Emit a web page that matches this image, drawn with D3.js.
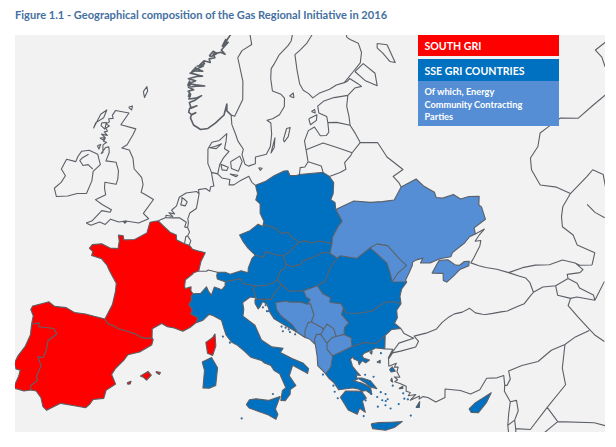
<!DOCTYPE html>
<html><head><meta charset="utf-8"><style>html,body{margin:0;background:#fff}svg{display:block}text{font-family:Lato,"Open Sans",sans-serif;font-weight:700}</style></head><body>
<script src="https://cdn.jsdelivr.net/npm/d3@7"></script>
<svg id="c" width="616" height="447"></svg>
<script>
const title="Figure 1.1 - Geographical composition of the Gas Regional Initiative in 2016";
const legendLabels=["SOUTH GRI","SSE GRI COUNTRIES",["Of which, Energy","Community Contracting","Parties"]];
// --- shared borders, lon/lat ---
const es_fr=[[-1.78,43.36],[-1.4,43.05],[-.75,42.95],[-.3,42.8],[.7,42.7],[1.45,42.6],[2,42.4],[2.55,42.35],[3.17,42.43]];
const es_n=[[-1.78,43.36],[-2.9,43.42],[-3.8,43.48],[-4.9,43.42],[-5.85,43.65],[-7.05,43.55],[-7.7,43.78],[-8.3,43.55],[-9.2,43.18],[-9.3,42.9],[-8.9,42.5],[-8.85,41.87]];
const es_pt=[[-8.85,41.87],[-8.15,42.1],[-8.1,41.82],[-7.2,41.9],[-6.6,41.95],[-6.2,41.6],[-6.9,41],[-6.85,40.35],[-7,39.7],[-7.5,39.65],[-7,39.1],[-7.2,38.2],[-7,38],[-7.5,37.5],[-7.4,37.18]];
const es_s=[[-7.4,37.18],[-6.9,37.2],[-6.35,36.8],[-6,36.2],[-5.6,36],[-5.3,36.2],[-4.5,36.7],[-3.5,36.72],[-2.2,36.72],[-1.9,37],[-1.65,37.4],[-.7,37.6],[-.6,38.2],[.2,38.75],[-.3,39.4],[0,39.9],[.7,40.6],[1,41],[2.1,41.3],[3.2,41.9],[3.3,42.3],[3.17,42.43]];
const pt_coast=[[-8.85,41.87],[-8.7,41.1],[-8.9,40.2],[-9.35,39.35],[-9.5,38.75],[-9.2,38.4],[-8.8,38.4],[-8.8,37.95],[-9,37.02],[-8,37],[-7.4,37.18]];
const fr_atl=[[-1.78,43.36],[-1.25,44.5],[-1.15,45.5],[-1.2,46.1],[-2.1,46.9],[-2.5,47.3],[-3.2,47.7],[-4.35,47.8],[-4.3,48.1],[-4.75,48.3],[-4.5,48.6],[-3.5,48.8],[-2.5,48.6],[-1.6,48.65],[-1.6,49.2],[-1.8,49.65],[-1.25,49.65],[-1.1,49.35],[.1,49.5],[1.4,50.1],[1.6,50.9],[2.55,51.08]];
const be_fr=[[2.55,51.08],[3.2,50.75],[4.1,50.3],[4.8,50.15],[4.85,49.8],[5.8,49.55]];
const fr_lu=[[5.8,49.55],[6.35,49.47]];
const de_fr=[[6.35,49.47],[6.75,49.18],[7.6,49.05],[8.2,48.97],[7.75,48.3],[7.55,47.6]];
const ch_fr=[[7.55,47.6],[7,47.45],[6.9,47.35],[6.15,46.9],[6.1,46.4],[6.2,46.25],[6.8,46.4],[6.8,46.1],[7.05,45.9]];
const fr_it=[[7.05,45.9],[6.85,45.7],[6.9,45.4],[6.65,45.1],[7.05,44.7],[6.9,44.4],[7.65,44.15],[7.5,43.78]];
const fr_med=[[7.5,43.78],[6.9,43.4],[6.2,43.1],[5.3,43.3],[4.6,43.35],[4,43.55],[3.1,43.1],[3.17,42.43]];
const it_ch=[[7.05,45.9],[7.85,45.95],[8.45,46.45],[8.7,46.1],[9,45.85],[9.3,46.45],[10.1,46.25],[10.45,46.55],[10.45,46.85]];
const at_it=[[10.45,46.85],[11.1,46.95],[12.15,47.05],[12.4,46.7],[13.7,46.5]];
const it_si=[[13.7,46.5],[13.45,46.2],[13.65,45.95],[13.6,45.8],[13.75,45.6]];
const it_coast=[[13.75,45.6],[13.1,45.7],[12.3,45.3],[12.4,44.8],[12.3,44.3],[13.5,43.6],[14.1,42.5],[15.1,41.95],[16.2,41.8],[15.9,41.5],[17,41],[18,40.6],[18.5,40.15],[18.35,39.8],[18,40],[17,40.5],[16.6,39.75],[17.15,39],[16.6,38.75],[16.55,38.4],[16.05,37.95],[15.65,38],[15.85,38.7],[16.2,38.9],[15.7,39.95],[15.2,40.2],[14.9,40.6],[14.3,40.8],[14,41],[13,41.25],[12.4,41.7],[11.7,42.15],[11.1,42.4],[10.55,42.95],[10.3,43.5],[10.1,44],[9.2,44.35],[8.8,44.42],[8.15,43.95],[7.5,43.78]];
const at_de=[[13.82,48.77],[13.45,48.55],[13,47.85],[12.95,47.5],[12.2,47.65],[11,47.4],[10.45,47.55],[9.6,47.55]];
const at_ch=[[9.6,47.55],[9.53,47.27],[9.6,47.05],[10.45,46.85]];
const at_si=[[13.7,46.5],[14.8,46.5],[15.6,46.65],[16.1,46.87]];
const at_hu=[[17.15,48],[17.05,47.7],[16.5,47.5],[16.1,46.87]];
const at_sk=[[17.15,48],[16.95,48.6]];
const at_cz=[[16.95,48.6],[16,48.75],[15,49],[14.7,48.6],[13.82,48.77]];
const de_cz=[[14.82,50.87],[14.3,51.05],[13.3,50.6],[12.1,50.3],[12.5,49.8],[13.05,49.3],[13.82,48.77]];
const de_pl=[[14.2,53.92],[14.4,53.3],[14.15,52.85],[14.65,52.55],[14.6,51.85],[15,51.25],[14.82,50.87]];
const pl_coast=[[14.2,53.92],[15.5,54.18],[16.6,54.55],[17.9,54.83],[18.4,54.82],[18.6,54.45],[19.4,54.4],[19.8,54.45]];
const pl_ru=[[19.8,54.45],[22.8,54.37]];
const pl_lt=[[22.8,54.37],[23.5,54]];
const pl_by=[[23.5,54],[23.9,53.5],[23.6,52.7],[23.2,52.3],[23.65,52.05],[23.6,51.5]];
const pl_ua=[[22.55,49.08],[22.7,49.55],[23.6,50.3],[24.1,50.6],[23.6,51.5]];
const pl_sk=[[22.55,49.08],[21.2,49.4],[20.2,49.35],[19.5,49.55],[18.85,49.5]];
const pl_cz=[[18.85,49.5],[18,50],[17.7,50.3],[16.9,50.25],[16.3,50.65],[15.1,51],[14.82,50.87]];
const cz_sk=[[16.95,48.6],[17.7,48.87],[18.6,49.4],[18.85,49.5]];
const hu_sk=[[22.15,48.4],[21.4,48.55],[20.4,48.3],[19,48.08],[18.8,47.85],[17.8,47.75],[17.15,48]];
const sk_ua=[[22.15,48.4],[22.55,49.08]];
const hu_ua=[[22.88,47.95],[22.15,48.4]];
const hu_ro=[[20.3,46.15],[21.2,46.4],[22,47.4],[22.88,47.95]];
const hu_rs=[[18.8,45.9],[20.3,46.15]];
const hu_hr=[[16.5,46.5],[17.3,45.95],[18.8,45.9]];
const hu_si=[[16.1,46.87],[16.5,46.5]];
const hr_si=[[13.6,45.48],[14.5,45.5],[15.3,45.45],[15.65,45.85],[16.5,46.5]];
const si_coast=[[13.6,45.48],[13.75,45.6]];
const hr_rs=[[18.8,45.9],[19,45.4],[19.4,45.2],[19.05,44.87]];
const ba_hr=[[19.05,44.87],[18.3,45.1],[17.2,45.15],[16.95,45.25],[15.75,45.2],[15.8,44.7],[16.2,44.2],[17.25,43.5],[17.65,43.05],[17.57,42.92],[17.7,42.92],[18.45,42.45]];
const hr_coast=[[18.45,42.45],[17.6,42.95],[16.5,43.5],[15.5,44],[15.1,44.5],[14.85,45.1],[14.4,45.32],[14.1,44.95],[13.9,44.8],[13.6,45.2],[13.6,45.48]];
const ba_me=[[18.45,42.45],[18.5,42.9],[18.9,43.5],[19.25,43.55]];
const ba_rs=[[19.25,43.55],[19.6,44.05],[19.35,44.9],[19.05,44.87]];
const me_coast=[[18.45,42.45],[18.9,42.3],[19.4,41.85]];
const al_me=[[19.4,41.85],[19.35,42.2],[19.65,42.6],[20.05,42.55]];
const me_rs=[[19.25,43.55],[20.3,43],[20.35,42.85]];
const kv_me=[[20.35,42.85],[20.05,42.55]];
const al_kv=[[20.05,42.55],[20.55,41.85]];
const kv_mk=[[20.55,41.85],[21.1,42.2],[21.55,42.25]];
const kv_rs=[[20.35,42.85],[20.8,43.25],[21.4,42.85],[21.55,42.25]];
const mk_rs=[[21.55,42.25],[22.35,42.32]];
const bg_mk=[[22.95,41.35],[23,42],[22.35,42.32]];
const gr_mk=[[22.95,41.35],[21.9,41.1],[20.95,40.88]];
const al_mk=[[20.95,40.88],[20.5,41.4],[20.55,41.85]];
const al_gr=[[20.95,40.88],[20.65,40.1],[20.1,39.65],[20,39.7]];
const al_coast=[[20,39.7],[19.4,40.3],[19.45,41],[19.4,41.85]];
const bg_gr=[[26.35,41.72],[25.3,41.25],[24.2,41.5],[23,41.35],[22.95,41.35]];
const gr_tr=[[26.05,40.75],[26.35,41.72]];
const gr_coast=[[26.05,40.75],[25.2,40.95],[24.8,40.85],[24,40.72],[23.75,40.55],[23.9,40.35],[24.4,40.15],[24,40],[23.7,40.2],[23.35,39.95],[23.3,40.25],[22.9,40.45],[22.95,40.6],[22.6,40.45],[22.7,39.9],[23,39.5],[23.3,39.15],[22.9,39.25],[22.95,38.9],[22.55,38.85],[23.3,38.6],[23.65,38.4],[24.05,38.1],[24.05,37.65],[23.6,38],[23.2,38],[22.9,38.2],[22.4,38.35],[21.8,38.35],[21.1,38.35],[20.75,38.9],[20.3,39.3],[20,39.7]];
const bg_rs=[[22.35,42.32],[22.5,42.8],[23,43.1],[22.4,43.8],[22.7,44.25]];
const bg_ro=[[22.7,44.25],[22.9,43.85],[24,43.7],[25.5,43.65],[27,44.1],[27.95,44],[28.58,43.74]];
const bg_coast=[[28.58,43.74],[28,43.35],[27.9,42.8],[27.5,42.45],[28,41.97]];
const bg_tr=[[28,41.97],[27.1,42.05],[26.35,41.72]];
const ro_rs=[[20.3,46.15],[20.8,45.5],[21.5,45.15],[21.4,44.8],[22.5,44.6],[22.7,44.25]];
const ro_ua=[[22.88,47.95],[23.2,48.1],[24.9,47.72],[25.1,47.73],[26.65,48.27]];
const ro_md=[[26.65,48.27],[27.3,47.7],[28.1,46.9],[28.2,46],[28.2,45.47]];
const ua_ro=[[29.7,45.2],[28.2,45.47]];
const ro_coast=[[28.58,43.74],[28.65,44.3],[29,44.8],[29.7,45.2]];
const md_ua=[[26.65,48.27],[27.5,48.45],[28.6,48.15],[29.2,47.4],[29.6,46.9],[30.1,46.4],[29,46],[28.2,45.47]];
const by_ua=[[31.8,52.1],[30.6,51.3],[29.2,51.4],[27.8,51.55],[25.9,51.9],[24,51.6],[23.6,51.5]];
const ru_ua=[[31.8,52.1],[33.8,52.35],[34.4,51.7],[35.4,51],[35.4,50.6],[36.1,50.4],[37.4,50.4],[38,49.9],[39,49.85],[40.1,49.6],[39.7,49],[39.9,48.8],[39.8,47.85],[38.3,47.55],[38.2,47.1]];
const ua_coast=[[38.2,47.1],[37.5,47.05],[36.8,46.75],[35.2,46.35],[34.9,46.1],[33.7,46.2],[32.6,46.1],[31.6,46.3],[32,46.6],[31.2,46.6],[30.8,46.5],[30.7,46.3],[30.2,45.85],[29.6,45.35],[29.7,45.2]];
const crimea=[[33.6,46.1],[34.5,45.95],[35.1,45.4],[35.5,45.3],[36.1,45.45],[36.6,45.35],[36.4,45.05],[35.4,45],[34.6,44.7],[33.7,44.4],[33.4,44.6],[33.6,45.1],[32.5,45.35],[33.2,45.85],[33.6,46.1]];
// islands of coloured countries
const peloponnese=[[23.2,37.95],[22.85,38.05],[21.7,38.2],[21.15,37.8],[21.7,36.8],[22.45,36.4],[22.75,36.8],[23.2,36.45],[23.1,37.3],[23.5,37.45]];
const crete=[[23.55,35.55],[24.2,35.55],[25.3,35.42],[26.3,35.3],[25.5,35],[24.7,34.92],[23.6,35.2]];
const euboea=[[23,39],[23.6,38.6],[24.05,38.2],[24.6,38],[24.15,38.65],[23.4,38.95]];
const lesbos=[[26.1,39.2],[26.4,39.35],[26.6,39],[26.2,39]];
const chios=[[26,38.4],[26.15,38.55],[26.15,38.25]];
const rhodes=[[27.75,36.1],[28.2,36.45],[28.05,36.05]];
const samos=[[26.6,37.7],[27,37.8],[26.95,37.65]];
const lemnos=[[25.05,39.9],[25.4,40],[25.35,39.8]];
const thasos=[[24.55,40.7],[24.8,40.75],[24.7,40.55]];
const greekDots=[[25.6,40.5],[27.15,35.6],[25.4,37.1],[25.2,37],[24.9,37.7],[24.5,37.4],[25.1,36.7],[26.9,36.9],[27.2,36.8],[24.4,36.7],[26.3,36.6],[20.7,38.25],[20.9,37.75],[20.65,38.7],[19.8,39.6],[23.4,37.3],[24,37.7],[24.5,38.9],[23.75,39.15],[26.1,38.0],[26.9,37.3],[23,36.2],[25.5,36.4],[24.9,37.1],[25.3,37.5]];
const cyprus=[[32.3,35.05],[33,35.35],[34.6,35.7],[33.9,35.1],[33,34.6],[32.4,34.75]];
const corsica=[[9.45,43],[9.55,42.1],[9.25,41.4],[8.75,41.55],[8.55,42.35],[9.2,42.7]];
const sardinia=[[8.25,40.9],[9.15,41.25],[9.75,40.5],[9.6,39.2],[9,39],[8.4,39],[8.5,40.3]];
const sicily=[[12.45,37.8],[12.75,38.15],[13.35,38.2],[14.5,38.05],[15.6,38.28],[15.1,37.4],[15.3,37],[15.1,36.65],[14.4,37],[13.5,37.3],[12.7,37.55]];
const mallorca=[[2.4,39.55],[3.1,39.95],[3.45,39.7],[3.05,39.3],[2.7,39.5]];
const menorca=[[3.85,40],[4.3,39.95],[4.2,39.8],[3.9,39.92]];
const ibiza=[[1.25,38.95],[1.6,39.1],[1.55,38.9],[1.35,38.85]];
const italyDots=[[10.25,42.8],[12,36.8],[14.95,38.5],[10.95,42.35]];
const dalmatia=[[14.4,44.9],[14.7,45.05],[15,44.6],[14.8,44.6],[15.5,44.1],[16.2,43.4],[16.6,43.3],[16.9,43.15],[17,42.95],[17.5,42.75],[16.3,43.05]];
// unfilled coast and borders
const uk=[[-5.7,50.07],[-5.1,49.98],[-4.2,50.35],[-3.5,50.25],[-3,50.7],[-2,50.6],[-1.2,50.75],[.3,50.75],[1.4,51.15],[.7,51.5],[1.7,52.6],[.4,52.95],[.1,53],[.2,53.6],[-.1,54.1],[-1.2,54.65],[-1.55,55.4],[-2.2,55.95],[-3.2,56],[-2.6,56.3],[-2.05,57.1],[-1.8,57.55],[-3.9,57.65],[-3.1,58.6],[-5,58.6],[-5.3,58.2],[-5.1,58],[-5.7,57.9],[-5.5,57.7],[-5.9,57.5],[-5.4,57.4],[-5.8,57.2],[-5.5,57],[-5.9,56.9],[-5.4,56.7],[-6.2,56.7],[-5.6,56.5],[-5.7,56.2],[-5.3,56.2],[-5.7,55.95],[-5.5,55.4],[-5.7,55.3],[-5.3,55.8],[-4.9,55.9],[-4.7,55.5],[-4.9,54.85],[-3.6,54.9],[-3.1,54.3],[-3,53.7],[-3.1,53.3],[-4.5,53.3],[-4.4,52.85],[-4.1,52.4],[-5.2,51.9],[-4.3,51.65],[-3.1,51.4],[-3.2,51.2],[-4.2,51.2],[-5.1,50.3],[-5.7,50.07]];
const ireland=[[-6.4,52.2],[-7.5,52.05],[-8.5,51.7],[-9.8,51.45],[-10.3,52],[-9.7,52.55],[-9.4,53.1],[-10.1,53.5],[-9.8,54.3],[-8.6,54.3],[-8.5,54.7],[-8.2,55.15],[-7.3,55.35],[-6.1,55.2],[-5.5,54.5],[-6.2,53.9],[-6.1,53.2],[-6.4,52.2]];
const ni=[[-7.25,55.05],[-7.9,54.7],[-8.15,54.45],[-7.6,54.15],[-7,54.3],[-6.3,54.05]];
const hebrides=[[-6.9,58.1],[-6.2,58.5],[-6.4,57.9],[-7.3,57.4],[-7.4,57],[-6.9,58.1]];
const skye=[[-6.5,57.5],[-5.9,57.6],[-5.9,57.1],[-6.5,57.3],[-6.5,57.5]];
const mull=[[-6.3,56.4],[-5.7,56.5],[-5.8,56.3],[-6.3,56.4]];
const islay=[[-6.4,55.8],[-6,55.95],[-6.1,55.6],[-6.4,55.8]];
const orkney=[[-3.3,59],[-2.8,59.15],[-2.8,58.85],[-3.3,59]];
const shetland=[[-1.6,60.3],[-1.2,60.7],[-1,60.4],[-1.3,59.9],[-1.6,60.3]];
const wight=[[-1.5,50.7],[-1.1,50.72],[-1.3,50.58],[-1.5,50.7]];
const de_coast=[[7.2,53.3],[7.1,53.6],[8,53.7],[8.5,53.5],[8.6,53.85],[9,53.9],[8.85,54.3],[8.65,54.9],[9.45,54.8],[10,54.5],[11,54.4],[10.9,54],[11.5,54],[12.3,54.3],[13.4,54.6],[13.75,54.15],[14.2,53.92]];
const de_ch=[[9.6,47.55],[8.6,47.7],[8.4,47.6],[7.55,47.6]];
const de_lu=[[6.35,49.47],[6.5,49.8],[6.1,50.15]];
const de_be=[[6.1,50.15],[6.3,50.45],[6.05,50.75]];
const de_nl=[[6.05,50.75],[6.1,51.15],[6,51.4],[6.2,51.85],[6.95,52.2],[7.05,52.6],[7.2,53.3]];
const nl_coast=[[7.2,53.3],[6.9,53.45],[5.6,53.3],[4.8,52.95],[4.55,52.3],[4,51.95],[4.4,51.7],[3.7,51.75],[4.2,51.5],[3.4,51.55],[3.4,51.37],[2.55,51.08]];
const nl_be=[[3.4,51.37],[4.3,51.4],[5,51.45],[5.85,51.15],[5.7,50.8],[6.05,50.75]];
const be_lu=[[5.8,49.55],[5.9,50.1],[6.1,50.15]];
const ijssel=[[5.1,52.95],[5.4,52.85],[5.8,52.65],[5.6,52.35],[5.05,52.4],[5.15,52.75],[5.1,52.95]];
const jutland=[[8.65,54.9],[8.15,55.55],[8.1,56.6],[8.6,57.1],[9.6,57.25],[10.6,57.75],[10.5,57.2],[10.3,56.65],[10.9,56.45],[10.2,56],[9.7,55.5],[9.45,54.8]];
const limfjord=[[8.3,56.7],[9,56.8],[9.9,57],[9.2,56.65],[8.3,56.7]];
const fyn=[[9.85,55.5],[10.8,55.3],[10.6,55.05],[10,55.1],[9.85,55.5]];
const zealand=[[11.1,55.7],[12.3,56.1],[12.6,55.7],[12.1,55],[11.2,55.2],[11.1,55.7]];
const lolland=[[11,54.8],[12,54.7],[11.8,54.6],[11,54.8]];
const bornholm=[[14.7,55.2],[15.15,55.15],[14.9,55],[14.7,55.2]];
const no_coast=[[11.2,59.1],[10.6,59.4],[10.6,59.9],[10.2,59.1],[9,58.5],[8,58.1],[7,58],[6,58.3],[5.5,58.8],[5.6,59],[6.2,59.2],[5.6,59.05],[5.2,59.2],[5.3,59.5],[6.3,59.7],[5.5,59.5],[5.2,59.9],[6,60.1],[6.9,60.45],[6.1,60.25],[5.1,60.15],[5.3,60.5],[4.9,60.7],[5.7,60.85],[4.9,61],[6,61.1],[7.3,61.15],[6,61.2],[4.9,61.25],[5.9,61.5],[4.8,61.6],[6,61.8],[6.9,61.85],[5.9,61.95],[5,62],[5.7,62.2],[6.9,62.2],[6,62.35],[6.9,62.55],[6,62.55],[7,62.65],[7,62.95],[8,62.85],[7.8,63.1],[8.7,63.2],[8.4,63.45],[9.6,63.6],[10.3,63.45],[9.7,63.75],[10.8,64.3],[10.2,64.2],[11.2,64.85],[11.2,65.3]];
const no_isl1=[[5,60.3],[5.1,60.55],[5.25,60.35],[5,60.3]];
const no_isl2=[[4.75,61.1],[5,61.45],[5.1,61.15],[4.75,61.1]];
const no_isl3=[[5.2,62.1],[5.8,62.45],[5.9,62.25],[5.2,62.1]];
const no_isl4=[[6.3,62.6],[6.9,62.9],[7.1,62.75],[6.3,62.6]];
const no_isl5=[[7.8,63.3],[8.4,63.65],[9,63.5],[8.2,63.3],[7.8,63.3]];
const no_isl6=[[9.8,64],[10.4,64.5],[10.6,64.3],[9.8,64]];
const no_se=[[11.2,59.1],[11.7,59],[12.9,60.2],[13,61.5],[12.3,63.2],[13,63.7],[14.6,64.1],[14.4,64.8]];
const se_coast=[[11.2,59.1],[11.3,58.4],[11.8,57.7],[12.1,57.2],[12.8,56.6],[12.6,56.2],[12.95,55.5],[13.4,55.35],[14.3,55.5],[14.35,56],[15.8,56.15],[16.4,56.7],[16.7,57.6],[16.7,58.4],[16.2,58.62],[17,58.7],[18,58.95],[18.8,59.5],[18.95,60.1],[18.5,60.4],[17.3,60.7],[17.2,61.6],[17.4,62.3],[17.9,62.6],[18.8,63.2],[20.4,63.8],[21,64.1],[21.4,64.6],[21.2,65]];
const gotland=[[18.2,57.1],[18.8,57.9],[19.3,57.95],[18.9,57.3],[18.3,56.95],[18.2,57.1]];
const oland=[[16.4,56.2],[17.1,57.3],[16.9,56.6],[16.4,56.2]];
const aland=[[19.7,60.2],[20.3,60.4],[20.3,60.05],[19.7,60.2]];
const fi_coast=[[25,65],[24.5,64.3],[23.5,63.8],[22.3,63.4],[21.3,63.1],[21.3,62.4],[21.3,62],[21.4,61],[21.8,60.5],[22.5,60.2],[23,59.85],[24,60.1],[25.6,60.25],[26.7,60.45],[27.9,60.5]];
const fi_ru=[[27.9,60.5],[29.5,61.1],[30.9,61.6],[31.5,62.3],[31.4,63],[30.3,63.4],[29.9,63.6],[29.9,65]];
const ru_gulf=[[27.9,60.5],[28.4,60.55],[28.8,60.7],[29.8,60.2],[30.2,59.95],[29.2,59.95],[28,59.55]];
const ladoga=[[29.8,61.1],[31.3,61.5],[32.6,60.6],[32.4,59.7],[30.9,60.3],[29.8,61.1]];
const onega=[[34.2,62.6],[35.6,62.3],[35.9,60.9],[35.2,61.1],[34.6,61.8],[34,62.3],[34.2,62.6]];
const ee_coast=[[28,59.55],[26,59.6],[24.5,59.5],[23.5,59.2],[23.5,58.7],[24.5,58.35],[24.5,57.9]];
const saaremaa=[[22,58.4],[23.2,58.6],[23,58.2],[22.1,57.95],[22,58.4]];
const hiiumaa=[[22.5,58.9],[23,59],[23,58.75],[22.5,58.9]];
const lv_coast=[[24.5,57.9],[24.4,57.2],[24,57],[23.2,57.05],[22.6,57.75],[21.7,57.55],[21,56.85],[21.05,56.2]];
const lt_coast=[[21.05,56.2],[21.1,55.3],[20.6,54.95],[20,54.95],[19.8,54.45]];
const ee_lv=[[24.5,57.9],[25.7,57.8],[27.4,57.4]];
const ee_ru=[[27.4,57.4],[27.5,58],[27.5,58.8],[28,59.55]];
const lv_ru=[[27.4,57.4],[27.8,56.8],[28.2,56]];
const lv_by=[[28.2,56],[26.9,55.4]];
const lv_lt=[[26.9,55.4],[25.1,56],[23.4,56.5],[21.05,56.2]];
const lt_by=[[26.9,55.4],[26.6,55.2],[25.7,54.8],[25.7,54.3],[24.9,54.15],[23.5,54]];
const lt_kal=[[22.8,54.37],[22.7,54.85],[21.5,55.2],[21.1,55.3]];
const by_ru=[[28.2,56],[30.4,55.7],[31.1,54.5],[32.6,53.3],[31.2,53],[31.7,52.4],[31.8,52.1]];
const tr_eu=[[26.05,40.75],[26.8,40.6],[26.2,40.05],[26.7,40.4],[27.5,40.95],[29,41.05],[28.2,41.55],[28,41.97]];
const tr_n=[[26.2,39.95],[26.7,40.35],[27.5,40.35],[29,40.4],[29.4,40.75],[29.1,41.2],[30.3,41.2],[31.4,41.3],[32.1,41.65],[32.9,41.9],[33.5,42],[34.3,41.95],[35.1,42.05],[35.5,41.6],[36.1,41.35],[36.4,41.25],[37.1,41.15],[37.9,41.05],[38.5,40.95],[39.7,41],[40.3,41],[41,41.3],[41.55,41.52]];
const tr_ge=[[41.55,41.52],[42.6,41.6],[43.8,41.3]];
const tr_am=[[43.8,41.3],[43.6,40.6],[44.6,40]];
const tr_ir=[[44.6,40],[44.1,39.6],[44.5,38.5],[44.9,37.5],[45.2,36.8],[45.7,36.1]];
const tr_iq=[[44.9,37.3],[43.5,37.3],[42.35,37.1]];
const tr_sy=[[42.35,37.1],[41,37.1],[39.5,36.7],[38,36.85],[36.7,36.8],[36.6,36.2],[36.15,35.85],[35.95,35.92]];
const tr_s=[[35.95,35.92],[36.15,36.6],[35.5,36.6],[34.6,36.8],[33.7,36.15],[32.8,36.05],[32,36.5],[30.7,36.9],[30.5,36.3],[29.6,36.15],[29,36.6],[28.6,36.75],[28.2,36.65],[28.3,36.85],[27.4,36.7],[28,37.02],[27.3,37.05],[27.55,37.25],[27.2,37.4],[27.3,37.75],[26.8,38.05],[26.35,38.25],[26.65,38.35],[26.4,38.6],[26.9,38.5],[26.75,38.95],[26.95,39.25],[26.6,39.3],[26.85,39.55],[26.1,39.45],[26.2,39.95]];
const black_e=[[41.55,41.52],[41.6,42.3],[41.4,42.7],[40.9,43],[40,43.55],[39,44.1],[38,44.5],[37.4,44.8],[36.7,45.2],[37.2,45.5],[38.2,46.15],[38.5,46.5],[37.9,46.6],[38.5,46.9],[39.3,47.2],[38.2,47.1]];
const ge_ru=[[40,43.55],[41.5,43.5],[42.8,43.3],[44.1,42.9],[45.5,42.8],[46.5,42.2],[46.8,41.9],[47.9,41.5]];
const am_az=[[44.6,40],[45.2,39.9],[46.6,39.1],[46.7,39.5],[45.8,40.4],[45.8,40.8],[45.2,41.4],[43.8,41.3]];
const ge_az=[[46.5,42.2],[46.9,41.5],[46.5,41.4],[45.3,41.7],[45.2,41.4]];
const az_ir=[[46.6,39.1],[48.2,40]];
const kaz_ru=[[58.7,51.7],[56.8,51.6],[54.5,51.4],[52.7,52.1],[50.9,52],[49.7,51.9],[48.7,51.1],[47.3,50.6],[46.8,49.8],[46.9,48.5],[48.4,47.8],[49.4,46.9]];
const caspian_w=[[49.4,46.9],[48,46.3],[47.4,45.7],[47,45],[47.6,44.1],[47.5,43.3],[48.7,42.2],[47.9,41.5]];
const caspian_n=[[49.4,46.9],[51.9,47.4],[52.8,47.6],[53.5,46.9],[53,46]];
const mangyshlak=[[50.4,45.6],[50.7,44.8],[51.3,44.1]];
const kaz_top=[[62.6,54.8],[61,54.8],[61.1,54.1],[60.7,53.4]];
const sy_coast=[[35.95,35.92],[35.75,35.5],[35.95,34.65],[35.5,33.9],[35.1,33.1],[34.9,32.3],[34.3,31.3]];
const sy_lb=[[35.95,34.65],[36.5,34.6],[36.35,33.85],[35.8,33.3],[35.1,33.1]];
const sy_il=[[35.8,33.3],[35.65,32.7],[35.55,32.4],[35.5,31.5],[35.4,31]];
const westbank=[[35.5,32.4],[35,32.3],[35,31.6],[35.5,31.5]];
const sy_jo=[[35.65,32.7],[36.8,32.3],[38.8,33.37]];
const sy_iq=[[38.8,33.37],[41,34.4],[41.3,35.6],[42.35,37.1]];
const jo_iq=[[38.8,33.37],[39.2,32.15]];
const jo_sa=[[39.2,32.15],[37,31.5],[38,30.5]];
const iq_sa=[[39.2,32.15],[42,31.1],[44.7,29.2]];
// --- which rings get which fill ---
const rv=a=>a.slice().reverse();
const join=(...s)=>s.flat();
const groups={
 red:[join(fr_atl,be_fr,fr_lu,de_fr,ch_fr,fr_it,fr_med,rv(es_fr)),join(es_n,es_pt,es_s,rv(es_fr)),join(pt_coast,rv(es_pt)),corsica,mallorca,menorca,ibiza],
 dark:[join(rv(fr_it),it_ch,at_it,it_si,it_coast),sicily,sardinia,
  join(at_de,at_ch,at_it,at_si,rv(at_hu),at_sk,at_cz),
  join(pl_coast,pl_ru,pl_lt,pl_by,rv(pl_ua),pl_sk,pl_cz,rv(de_pl)),
  join(rv(pl_cz),rv(cz_sk),at_cz,rv(de_cz)),
  join(rv(pl_sk),rv(sk_ua),hu_sk,at_sk,cz_sk),
  join(rv(hu_sk),rv(hu_ua),rv(hu_ro),rv(hu_rs),rv(hu_hr),rv(hu_si),rv(at_hu)),
  join(at_si,hu_si,rv(hr_si),si_coast,rv(it_si)),
  join(hr_si,hu_hr,hr_rs,ba_hr,hr_coast),
  join(rv(al_gr),rv(gr_mk),rv(bg_gr),rv(gr_tr),gr_coast),peloponnese,crete,euboea,lesbos,chios,rhodes,samos,lemnos,thasos,
  join(bg_gr,bg_mk,bg_rs,bg_ro,bg_coast,bg_tr),
  join(hu_ro,ro_ua,ro_md,rv(ua_ro),rv(ro_coast),rv(bg_ro),rv(ro_rs)),cyprus],
 light:[join(ba_hr,ba_me,ba_rs),
  join(rv(ba_me),me_coast,al_me,rv(kv_me),rv(me_rs)),
  join(kv_me,al_kv,kv_mk,rv(kv_rs)),
  join(hu_rs,ro_rs,rv(bg_rs),rv(mk_rs),rv(kv_rs),rv(me_rs),ba_rs,rv(hr_rs)),
  join(kv_mk,mk_rs,rv(bg_mk),gr_mk,al_mk),
  join(al_me,al_kv,rv(al_mk),al_gr,al_coast),
  join(rv(ro_md),md_ua),
  join(rv(by_ua),ru_ua,ua_coast,ua_ro,rv(md_ua),rv(ro_ua),hu_ua,sk_ua,pl_ua),crimea]
};
const shut=r=>{const c=r.slice();const a=c[0],b=c[c.length-1];if(a[0]!==b[0]||a[1]!==b[1])c.push(a);return c};
const lines=[es_fr,es_n,es_pt,es_s,pt_coast,fr_atl,be_fr,fr_lu,de_fr,ch_fr,fr_it,fr_med,it_ch,at_it,it_si,it_coast,at_de,at_ch,at_si,at_hu,at_sk,at_cz,de_cz,de_pl,pl_coast,pl_ru,pl_lt,pl_by,pl_ua,pl_sk,pl_cz,cz_sk,hu_sk,sk_ua,hu_ua,hu_ro,hu_rs,hu_hr,hu_si,hr_si,si_coast,hr_rs,ba_hr,hr_coast,ba_me,ba_rs,me_coast,al_me,me_rs,kv_me,al_kv,kv_mk,kv_rs,mk_rs,bg_mk,gr_mk,al_mk,al_gr,al_coast,bg_gr,gr_tr,gr_coast,bg_rs,bg_ro,bg_coast,bg_tr,ro_rs,ro_ua,ro_md,ua_ro,ro_coast,md_ua,by_ua,ru_ua,ua_coast,crimea,shut(peloponnese),shut(crete),shut(euboea),shut(lesbos),shut(chios),shut(rhodes),shut(samos),shut(lemnos),shut(thasos),shut(cyprus),shut(corsica),shut(sardinia),shut(sicily),shut(mallorca),shut(menorca),shut(ibiza),uk,ireland,ni,hebrides,skye,mull,islay,orkney,shetland,wight,de_coast,de_ch,de_lu,de_be,de_nl,nl_coast,nl_be,be_lu,ijssel,jutland,limfjord,fyn,zealand,lolland,bornholm,no_se,se_coast,gotland,oland,aland,fi_coast,fi_ru,ru_gulf,ladoga,onega,ee_coast,saaremaa,hiiumaa,lv_coast,lt_coast,ee_lv,ee_ru,lv_ru,lv_by,lv_lt,lt_by,lt_kal,by_ru,tr_eu,tr_n,tr_ge,tr_am,tr_ir,tr_iq,tr_sy,tr_s,black_e,ge_ru,am_az,ge_az,az_ir,kaz_ru,caspian_w,caspian_n,mangyshlak,kaz_top,sy_coast,sy_lb,sy_il,westbank,sy_jo,sy_iq,jo_iq,jo_sa,iq_sa];
const fjordLines=[no_coast,no_isl1,no_isl2,no_isl3,no_isl4,no_isl5,no_isl6];
const colors={red:"#ff0000",dark:"#0070c0",light:"#558ed5"};
// --- drawing ---
const svg=d3.select("#c");
const projection=d3.geoConicConformal().rotate([-11.08,0]).parallels([47.884,47.894]).scale(774.919).translate([233.992,989.306]).angle(.245);
const path=d3.geoPath(projection).pointRadius(1.1);
const poly=r=>{let c=shut(r);let f={type:"Polygon",coordinates:[c]};if(d3.geoArea(f)>2*Math.PI)f={type:"Polygon",coordinates:[c.slice().reverse()]};return f};
svg.append("text").attr("x",15).attr("y",19).attr("font-size",11.1).attr("fill","#44709f").text(title);
svg.append("defs").append("clipPath").attr("id","mapclip").append("rect").attr("x",15).attr("y",35).attr("width",590).attr("height",397);
svg.append("rect").attr("x",15).attr("y",35).attr("width",590).attr("height",397).attr("fill","#f2f2f2");
const map=svg.append("g").attr("clip-path","url(#mapclip)");
for(const k of ["light","dark","red"]){
 map.append("g").selectAll("path").data(groups[k].map(poly)).join("path").attr("d",path).attr("fill",colors[k]);
}
map.append("path").datum({type:"MultiLineString",coordinates:lines}).attr("d",path).attr("fill","none").attr("stroke","#5b5f66").attr("stroke-width",1.1).attr("stroke-linejoin","round");
map.append("path").datum({type:"MultiLineString",coordinates:fjordLines}).attr("d",path).attr("fill","none").attr("stroke","#5b5f66").attr("stroke-width",1.6).attr("stroke-linejoin","round");
map.append("path").datum({type:"MultiPoint",coordinates:greekDots}).attr("d",path).attr("fill","#2a6aa3");
map.append("path").datum({type:"MultiPoint",coordinates:italyDots.concat(dalmatia)}).attr("d",path).attr("fill","#44648a");
// legend
const lg=svg.append("g");
lg.append("rect").attr("x",418).attr("y",35).attr("width",141).attr("height",21).attr("fill","#ff0000");
lg.append("rect").attr("x",418).attr("y",59).attr("width",141).attr("height",22).attr("fill","#0070c0");
lg.append("rect").attr("x",418).attr("y",81).attr("width",141).attr("height",45).attr("fill","#558ed5");
lg.append("text").attr("x",424.5).attr("y",50).attr("font-size",10.6).attr("fill","#fff").text(legendLabels[0]);
lg.append("text").attr("x",424.5).attr("y",75).attr("font-size",10.6).attr("fill","#fff").text(legendLabels[1]);
legendLabels[2].forEach((t,i)=>lg.append("text").attr("x",424.5).attr("y",[95,108,120][i]).attr("font-size",9.2).attr("fill","#fff").text(t));
</script></body></html>
